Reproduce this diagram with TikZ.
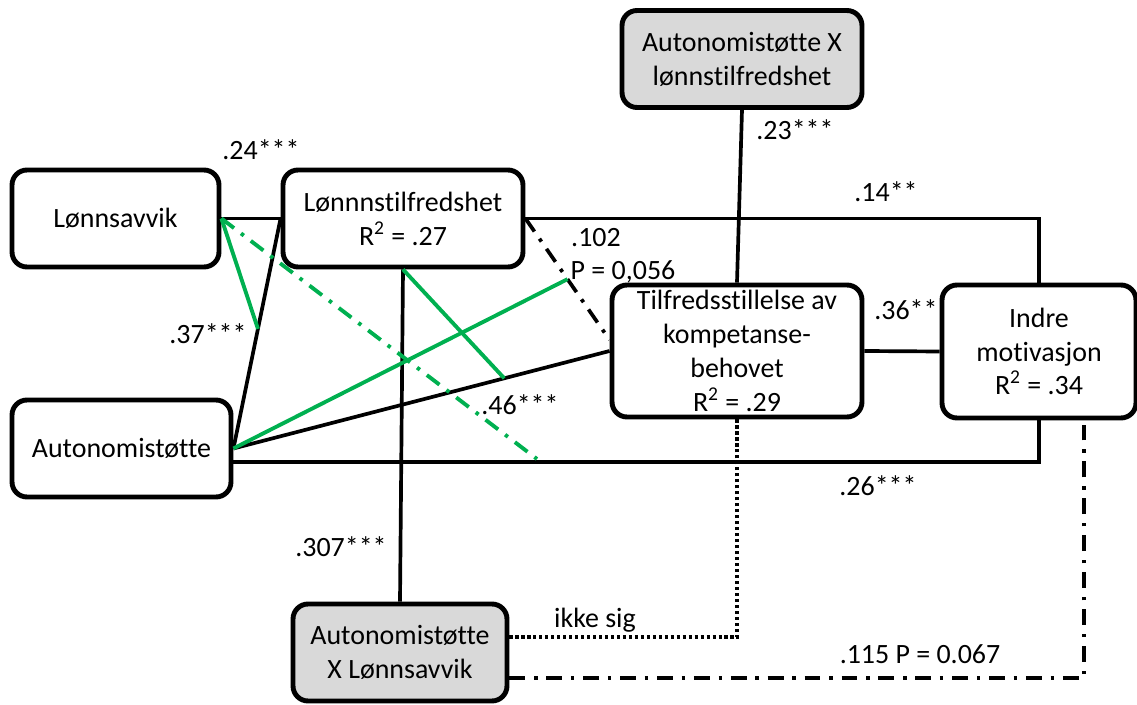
\documentclass[tikz,border=0pt]{standalone}
\usepackage{fontspec}
\setmainfont{Carlito}[Ligatures={NoCommon}]
\usetikzlibrary{calc}
\definecolor{modgreen}{RGB}{0,176,80}
\definecolor{modgray}{RGB}{217,217,217}

\begin{document}
\begin{tikzpicture}[x=0.02cm,y=-0.02cm,
  txt/.style={font=\fontsize{15.9}{19.3}\selectfont,inner sep=0pt},
  var/.style={txt,draw,fill=white,rounded corners=0.3cm,line width=2.8pt,align=center,minimum height=1.94cm},
  inter/.style={var,fill=modgray},
  conn/.style={line width=2.1pt},
  modline/.style={modgreen,line width=2.2pt},
  dashdot/.style={dash pattern=on 9pt off 5pt on 2pt off 5pt},
  dots/.style={line width=2.4pt,dash pattern=on 1.8pt off 1.6pt}]

  \useasboundingbox (0,0) rectangle (1137,705);

  % path coefficients
  \node[txt] (l24) at (261,150) {.24***};
  \node[txt] (l37) at (208,334) {.37***};
  \node[txt] (l46) at (520,405) {.46***};
  \node[txt] (l102) at (596,238) {.102};
  \node[txt] (l056) at (623,272) {P = 0,056};
  \node[txt] (l14) at (886,192) {.14**};
  \node[txt] (l23) at (795,130) {.23***};
  \node[txt,anchor=west] (l36) at (874,310) {.36***};
  \node[txt] (l26) at (878,486) {.26***};
  \node[txt] (l307) at (341,547) {.307***};
  \node[txt] (lik) at (595,620) {ikke sig};
  \node[txt] (l115) at (920,654) {.115 P = 0.067};

  % variables
  \node[var,minimum width=4.14cm] (lav) at (115.5,218.5) {Lønnsavvik};
  \node[var,minimum width=4.8cm] (lts) at (403,218.5) {Lønnnstilfredshet\\R\textsuperscript{2} = .27};
  \node[var,minimum width=4.38cm] (auto) at (121.5,448.5) {Autonomistøtte};
  \node[inter,minimum width=4.8cm] (tlx) at (742,59) {Autonomistøtte X\\lønnstilfredshet};
  \node[var,minimum width=5cm,minimum height=2.64cm] (tk) at (737,351) {Tilfredsstillelse av\\kompetanse-\\behovet\\R\textsuperscript{2} = .29};
  \node[var,minimum width=3.88cm,minimum height=2.66cm] (ind) at (1039,351.5) {Indre\\motivasjon\\R\textsuperscript{2} = .34};
  \node[inter,minimum width=4.28cm] (axl) at (400,652.5) {Autonomistøtte\\X Lønnsavvik};

  \draw[conn] (lav.east) -- (lts.west);
  \draw[conn] (auto.east) -- (lts.west);
  \draw[conn] (auto.east) -- (tk.west);
  \draw[conn] (lts.east) -| (ind.north);
  \draw[conn] (auto.-7) -| (ind.south);
  \draw[conn] (tlx.south) -- (tk.north);
  \draw[conn] (tk.east) -- (ind.west);
  \draw[conn] (lts.south) -- (axl.north);
  \draw[conn,dashdot] (lts.east) -- (tk.175);
  \draw[conn,dots] (axl.8) -| (tk.south);
  \draw[conn,dashdot] (axl.347) -| (ind.303);

  % moderation
  \coordinate (m37) at ($(auto.east)!0.52!(lts.west)$);
  \coordinate (m46) at ($(auto.east)!0.72!(tk.west)$);
  \coordinate (m056) at ($(lts.east)!0.5!(tk.175)$);
  \coordinate (m26) at (537,459);

  \draw[modline] (lav.east) -- (m37);
  \draw[modline,dashdot] (lav.east) -- (m26);
  \draw[modline] (auto.east) -- (m056);
  \draw[modline] (lts.south) -- (m46);

\end{tikzpicture}
\end{document}
